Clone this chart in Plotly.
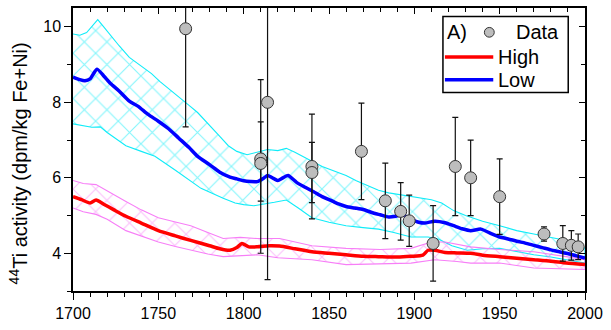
import plotly.graph_objects as go

# ---------------- data ----------------
low_years = [1700, 1704, 1707, 1710, 1714, 1718, 1722, 1727, 1733, 1738, 1744, 1750, 1756, 1762, 1768, 1773,
             1780, 1786, 1792, 1796, 1800, 1804, 1808, 1812, 1814, 1818, 1820, 1823, 1826, 1831, 1836, 1841,
             1846, 1852, 1856, 1860, 1865, 1870, 1875, 1880, 1885, 1889, 1893, 1897, 1902, 1906, 1912, 1918,
             1923, 1928, 1933, 1939, 1945, 1950, 1955, 1960, 1965, 1970, 1975, 1980, 1985, 1989, 1995, 2000]
low_vals = [8.67, 8.6, 8.57, 8.62, 8.88, 8.7, 8.5, 8.3, 8.03, 7.9, 7.68, 7.5, 7.3, 7.05, 6.8, 6.57,
            6.35, 6.15, 6.02, 5.97, 5.92, 5.9, 5.9, 6.0, 6.06, 5.97, 5.93, 6.0, 6.06, 5.88, 5.75, 5.63,
            5.5, 5.38, 5.3, 5.24, 5.2, 5.16, 5.08, 5.02, 4.96, 4.98, 5.03, 4.92, 4.83, 4.8, 4.85, 4.81,
            4.73, 4.65, 4.6, 4.64, 4.52, 4.43, 4.38, 4.32, 4.27, 4.21, 4.15, 4.09, 4.04, 4.0, 3.93, 3.87]

low_up_years = [1700, 1704, 1708, 1711, 1714.5, 1718, 1721, 1727, 1733, 1740, 1746, 1751, 1756, 1762, 1768,
                1773, 1780, 1786, 1791, 1796, 1802, 1808, 1814, 1820, 1825, 1830, 1835, 1840, 1846, 1852,
                1856, 1860, 1866, 1872, 1879, 1885, 1892, 1898, 1904, 1910, 1916, 1923, 1930, 1940, 1950,
                1960, 1970, 1980, 1989, 1995, 2000]
low_up_vals = [9.81, 9.78, 9.85, 10.0, 10.19, 10.0, 9.83, 9.5, 9.19, 8.95, 8.76, 8.55, 8.37, 8.15, 7.92,
               7.73, 7.4, 7.1, 6.85, 6.7, 6.61, 6.68, 6.75, 6.72, 6.78, 6.68, 6.55, 6.44, 6.3, 6.2,
               6.12, 6.06, 5.92, 5.8, 5.67, 5.6, 5.55, 5.5, 5.45, 5.42, 5.33, 5.13, 5.0, 4.85, 4.73,
               4.6, 4.51, 4.42, 4.34, 4.25, 4.13]

low_lo_years = [1700, 1705, 1711, 1716, 1720, 1731, 1740, 1748, 1760, 1775, 1788, 1795, 1800, 1806, 1812,
                1818, 1825, 1832, 1840, 1850, 1860, 1870, 1879, 1888, 1898, 1908, 1914, 1922, 1931, 1940,
                1950, 1960, 1970, 1980, 1989, 2000]
low_lo_vals = [7.43, 7.4, 7.34, 7.35, 7.2, 6.85, 6.7, 6.57, 6.2, 5.72, 5.46, 5.33, 5.29, 5.26, 5.3,
               5.35, 5.41, 5.2, 4.94, 4.82, 4.73, 4.68, 4.64, 4.55, 4.43, 4.43, 4.38, 4.2, 4.08, 4.12,
               4.13, 4.05, 3.96, 3.9, 3.83, 3.74]

high_years = [1700, 1705, 1710, 1713.5, 1718, 1724, 1731, 1740, 1750, 1760, 1769, 1780, 1786, 1792, 1796,
              1799, 1803, 1808, 1815, 1821, 1830, 1840, 1850, 1860, 1870, 1879, 1890, 1898, 1905, 1908,
              1912, 1918, 1925, 1933, 1940, 1950, 1960, 1970, 1980, 1989, 2000]
high_vals = [5.5, 5.42, 5.33, 5.41, 5.3, 5.15, 4.98, 4.8, 4.6, 4.46, 4.34, 4.2, 4.12, 4.08, 4.15,
             4.26, 4.17, 4.17, 4.2, 4.19, 4.12, 4.04, 4.0, 3.96, 3.92, 3.91, 3.9, 3.92, 3.95, 4.08,
             4.08, 4.02, 4.01, 4.0, 3.95, 3.91, 3.87, 3.83, 3.79, 3.74, 3.7]

high_up_years = [1700, 1706, 1713.5, 1720, 1731, 1740, 1750, 1760, 1769, 1779, 1788, 1798, 1808, 1821, 1830,
                 1840, 1860, 1880, 1898, 1910, 1918, 1933, 1950, 1970, 1989, 2000]
high_up_vals = [5.93, 5.85, 5.82, 5.65, 5.37, 5.15, 4.94, 4.83, 4.73, 4.55, 4.39, 4.42, 4.39, 4.39, 4.3,
                4.2, 4.13, 4.1, 4.13, 4.3, 4.3, 4.17, 4.1, 4.04, 3.91, 3.83]

high_lo_years = [1700, 1706, 1713.5, 1720, 1731, 1740, 1750, 1760, 1769, 1779, 1788, 1798, 1808, 1820, 1840,
                 1860, 1880, 1898, 1912, 1925, 1933, 1950, 1970, 2000]
high_lo_vals = [5.2, 5.1, 5.03, 4.9, 4.6, 4.45, 4.3, 4.18, 4.08, 3.98, 3.91, 3.94, 3.96, 3.88, 3.83,
                3.7, 3.72, 3.74, 3.83, 3.78, 3.74, 3.74, 3.61, 3.57]

data_years = [1766, 1810, 1810, 1814, 1840, 1840, 1869, 1883, 1892, 1897, 1911, 1924, 1933, 1950,
              1976, 1987, 1992, 1996]
data_vals = [9.95, 6.5, 6.38, 8.0, 6.3, 6.14, 6.7, 5.39, 5.11, 4.86, 4.26, 6.3, 6.0, 5.5,
             4.51, 4.26, 4.21, 4.17]
data_err_plus = [2.6, 2.1, 1.1, 4.7, 1.39, 0.8, 1.28, 1.0, 0.76, 0.68, 1.0, 1.3, 1.0, 1.0,
                 0.19, 0.47, 0.39, 0.34]
data_err_minus = [2.6, 2.5, 1.0, 4.7, 1.39, 0.8, 1.28, 1.0, 0.76, 0.68, 1.0, 1.3, 1.0, 1.0,
                  0.19, 0.47, 0.39, 0.34]

x_ticks = [1700, 1750, 1800, 1850, 1900, 1950, 2000]
y_ticks = [4, 6, 8, 10]

FONT = "Arial, Liberation Sans, sans-serif"
CYAN = "#10ecf8"
MAGENTA = "#f77ef7"

fig = go.Figure()


def band(up_x, up_y, lo_x, lo_y, color, size, sol):
    # closed polygon: upper edge forward, lower edge backward
    fig.add_trace(go.Scatter(x=list(up_x) + list(lo_x)[::-1], y=list(up_y) + list(lo_y)[::-1],
                             mode="lines", fill="toself", fillcolor="rgba(0,0,0,0)",
                             fillpattern=dict(shape="x", fgcolor=color, bgcolor="rgba(0,0,0,0)",
                                              size=size, solidity=sol, fillmode="overlay"),
                             line=dict(color=color, width=1.1), showlegend=False,
                             hoverinfo="skip"))


band(low_up_years, low_up_vals, low_lo_years, low_lo_vals, CYAN, 16, 0.14)
band(high_up_years, high_up_vals, high_lo_years, high_lo_vals, MAGENTA, 16, 0.13)

# central lines
fig.add_trace(go.Scatter(x=high_years, y=high_vals, mode="lines", name="High",
                         line=dict(color="#ff0000", width=3.5, shape="spline", smoothing=0.6),
                         showlegend=False))
fig.add_trace(go.Scatter(x=low_years, y=low_vals, mode="lines", name="Low",
                         line=dict(color="#0000ff", width=3.5, shape="spline", smoothing=0.6),
                         showlegend=False))

# data points
fig.add_trace(go.Scatter(x=data_years, y=data_vals, mode="markers", name="Data",
                         marker=dict(size=12, color="#bdbdbd", line=dict(color="#333333", width=1)),
                         error_y=dict(type="data", array=data_err_plus, arrayminus=data_err_minus,
                                      color="#111111", thickness=1.2, width=3),
                         showlegend=False))

# dummy trace for mirrored axes
fig.add_trace(go.Scatter(x=[1700], y=[3], xaxis="x2", yaxis="y2", mode="markers",
                         marker=dict(opacity=0), showlegend=False, hoverinfo="skip"))

axis_common = dict(showline=True, linecolor="black", linewidth=1.5, showgrid=False, zeroline=False)

fig.update_layout(
    width=611, height=330,
    margin=dict(l=73, r=19, t=8, b=31),
    paper_bgcolor="white", plot_bgcolor="white",
    font=dict(family=FONT, size=16, color="black"),
    showlegend=False,
    xaxis=dict(range=[1700, 2000], tickvals=x_ticks, ticks="outside", ticklen=7, tickwidth=1.2,
               tickcolor="black", tickfont=dict(size=16),
               minor=dict(dtick=10, tick0=1700, ticks="outside", ticklen=4, tickcolor="black"),
               **axis_common),
    yaxis=dict(range=[3, 10.5], tickvals=y_ticks, ticks="outside", ticklen=7, tickwidth=1.2,
               tickcolor="black", tickfont=dict(size=16),
               minor=dict(dtick=1, tick0=3, ticks="outside", ticklen=4, tickcolor="black"),
               **axis_common),
    xaxis2=dict(range=[1700, 2000], overlaying="x", side="top", anchor="y2", tickvals=x_ticks,
                ticks="inside", ticklen=6, tickcolor="black", showticklabels=False,
                minor=dict(dtick=10, tick0=1700, ticks="inside", ticklen=4, tickcolor="black"),
                **axis_common),
    yaxis2=dict(range=[3, 10.5], overlaying="y", side="right", anchor="x2", tickvals=y_ticks,
                ticks="inside", ticklen=6, tickcolor="black", showticklabels=False,
                minor=dict(dtick=1, tick0=3, ticks="inside", ticklen=4, tickcolor="black"),
                **axis_common),
)

# y-axis title
fig.add_annotation(text="<sup>44</sup>Ti activity (dpm/kg Fe+Ni)", xref="paper", yref="paper",
                   x=-0.106, y=0.45, textangle=-90, showarrow=False,
                   font=dict(size=20, family=FONT), xanchor="center", yanchor="middle")

# ---- legend box ----
def px_x(p):
    return (p - 73) / 519.0

def px_y(p):
    return (299 - p) / 291.0

fig.add_shape(type="rect", xref="paper", yref="paper", x0=px_x(448), x1=px_x(575),
              y0=px_y(95), y1=px_y(16.7), line=dict(color="black", width=1.5),
              fillcolor="white", layer="above")
fig.add_annotation(text="A)", xref="paper", yref="paper", x=px_x(450), y=px_y(33),
                   xanchor="left", yanchor="middle", showarrow=False, font=dict(size=20))
fig.add_shape(type="circle", xref="paper", yref="paper", x0=px_x(490), x1=px_x(500),
              y0=px_y(38), y1=px_y(28), fillcolor="#bdbdbd", line=dict(color="#333333", width=1),
              layer="above")
fig.add_annotation(text="Data", xref="paper", yref="paper", x=px_x(568), y=px_y(33),
                   xanchor="right", yanchor="middle", showarrow=False, font=dict(size=20))
fig.add_shape(type="line", xref="paper", yref="paper", x0=px_x(450), x1=px_x(499),
              y0=px_y(58.3), y1=px_y(58.3), line=dict(color="#ff0000", width=3.5), layer="above")
fig.add_annotation(text="High", xref="paper", yref="paper", x=px_x(502), y=px_y(58.3),
                   xanchor="left", yanchor="middle", showarrow=False, font=dict(size=20))
fig.add_shape(type="line", xref="paper", yref="paper", x0=px_x(450), x1=px_x(499),
              y0=px_y(81.7), y1=px_y(81.7), line=dict(color="#0000ff", width=3.5), layer="above")
fig.add_annotation(text="Low", xref="paper", yref="paper", x=px_x(502), y=px_y(81.7),
                   xanchor="left", yanchor="middle", showarrow=False, font=dict(size=20))

fig.write_html("out.html")
